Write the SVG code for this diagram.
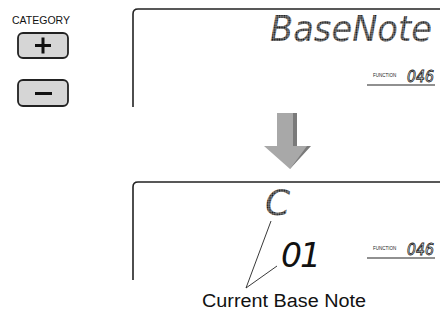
<svg xmlns="http://www.w3.org/2000/svg" width="440" height="323" viewBox="0 0 440 323">
<defs>
<style>
.lcd{fill:none;stroke:#222;stroke-width:1.6;stroke-linejoin:round}
.btn{fill:#d6d6d6;stroke:#222;stroke-width:1.8}
.sym{stroke:#111;stroke-width:3;stroke-linecap:butt}
.lbl{font-family:"Liberation Sans",Arial,sans-serif;fill:#111}
.dot{font-family:"DejaVu Sans",sans-serif;font-style:italic;fill:url(#dots)}
.seg{font-family:"DejaVu Sans",sans-serif;font-style:italic;fill:none;stroke:#222;stroke-width:0.8}
.fn{font-family:"Liberation Sans",Arial,sans-serif;font-size:4.5px;fill:#222}
.ul{stroke:#222;stroke-width:1.2}
.lead{stroke:#222;stroke-width:0.9;fill:none}
</style>
<pattern id="dots" width="2.4" height="2.4" patternUnits="userSpaceOnUse">
<rect x="0.2" y="0.2" width="2" height="2" fill="#111"/>
</pattern>
</defs>
<g id="category">
<text class="lbl" x="12" y="24" font-size="10.5">CATEGORY</text>
</g>
<g id="btn-plus">
<rect class="btn" x="18" y="33" width="50" height="25" rx="5"/>
<line class="sym" x1="35" y1="45.5" x2="51" y2="45.5"/>
<line class="sym" x1="43" y1="37.5" x2="43" y2="53.5"/>
</g>
<g id="btn-minus">
<rect class="btn" x="18" y="80" width="50" height="26" rx="5"/>
<line class="sym" x1="35" y1="93.5" x2="52" y2="93.5"/>
</g>
<g id="display-1">
<path class="lcd" d="M133,107 V14 Q133,9 138,9 H440"/>
<text class="dot" x="432" y="41" font-size="35" text-anchor="end" textLength="162" lengthAdjust="spacingAndGlyphs">BaseNote</text>
<text class="fn" x="373" y="77">FUNCTION</text>
<text class="seg" x="407" y="82" font-size="15" textLength="27" lengthAdjust="spacingAndGlyphs">046</text>
<line class="ul" x1="367" y1="85" x2="435" y2="85"/>
</g>
<g id="arrow">
<polygon points="281,113 297,113 297,146 311,146 290,169 293,150" fill="#7a7a7a"/>
<polygon points="277,113 293,113 293,146 307,146 290,169 264,146 277,146" fill="#a8a8a8"/>
</g>
<g id="display-2">
<path class="lcd" d="M133,280 V187 Q133,182 138,182 H440"/>
<text class="dot" x="265" y="215" font-size="36">C</text>
<text x="281" y="267" font-family="DejaVu Sans,sans-serif" font-style="italic" font-size="33" fill="#111" textLength="40" lengthAdjust="spacing">01</text>
<text class="fn" x="373" y="250">FUNCTION</text>
<text class="seg" x="407" y="255" font-size="15" textLength="27" lengthAdjust="spacingAndGlyphs">046</text>
<line class="ul" x1="367" y1="258" x2="435" y2="258"/>
</g>
<g id="connectors">
<line class="lead" x1="246" y1="288" x2="271" y2="221"/>
<line class="lead" x1="246" y1="288" x2="277" y2="266"/>
</g>
<g id="label">
<text class="lbl" x="202" y="307" font-size="18" textLength="164" lengthAdjust="spacingAndGlyphs">Current Base Note</text>
</g>
</svg>
